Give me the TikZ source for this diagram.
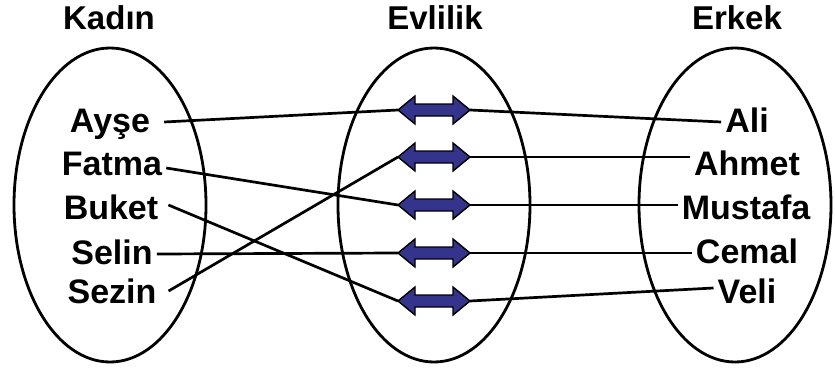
\documentclass[tikz,border=0pt]{standalone}
\usepackage{fontspec}
\setmainfont{Liberation Sans}
\usetikzlibrary{shapes.geometric}
\definecolor{arrowblue}{RGB}{52,52,140}
\begin{document}
\begin{tikzpicture}[x=1pt,y=-1pt,
  oval/.style={draw, ellipse, line width=2.8pt, inner sep=0pt, minimum width=192pt, minimum height=314pt},
  head/.style={font=\fontsize{33}{33}\selectfont\bfseries, inner sep=0pt},
  lname/.style={font=\fontsize{34}{34}\selectfont\bfseries, text height=24pt, text depth=0pt, inner ysep=0pt, inner xsep=4pt},
  abox/.style={rectangle, inner sep=0pt, outer sep=0pt, minimum width=72pt, minimum height=28pt},
  arrowshape/.style={draw=black, line width=1.4pt, fill=arrowblue, line join=miter},
  link/.style={line width=2.7pt}]
\useasboundingbox (0,0) rectangle (835,369);
\fill[white] (0,0) rectangle (835,369);
% ellipses
\node[oval] (ek) at (110,205) {};
\node[oval] (ee) at (434,205) {};
\node[oval] (er) at (735,205) {};
% headers
\node[head] (hk) at (109,18) {Kadın};
\node[head] (he) at (435,18) {Evlilik};
\node[head] (hr) at (737,18) {Erkek};
% women
\node[lname] (ayse) at (110,120) {Ayşe};
\node[lname] (fatma) at (112,163) {Fatma};
\node[lname] (buket) at (111,207) {Buket};
\node[lname] (selin) at (112,252) {Selin};
\node[lname] (sezin) at (112,291) {Sezin};
% men
\node[lname] (ali) at (747,120) {Ali};
\node[lname] (ahmet) at (747,163) {Ahmet};
\node[lname] (mustafa) at (746,207) {Mustafa};
\node[lname] (cemal) at (747,251) {Cemal};
\node[lname] (veli) at (747,291) {Veli};
% arrows
\node[abox] (a1) at (434,110) {};
\node[abox] (a2) at (434,157) {};
\node[abox] (a3) at (434,205) {};
\node[abox] (a4) at (434,253) {};
\node[abox] (a5) at (434,301) {};
\foreach \n in {a1,a2,a3,a4,a5}
  \draw[arrowshape] (\n.west) -- ++(17,-14) -- ++(0,8) -- ++(38,0) -- ++(0,-8) -- ++(17,14)
    -- ++(-17,14) -- ++(0,-8) -- ++(-38,0) -- ++(0,8) -- cycle;
% links
\draw[link] ([xshift=10pt,yshift=-2pt]ayse.east) -- (a1.west);
\draw[link] ([yshift=-5pt]fatma.east) -- (a3.west);
\draw[link] ([xshift=6pt,yshift=2pt]buket.east) -- (a5.west);
\draw[link] ([yshift=-2pt]selin.east) -- (a4.west);
\draw[link] ([xshift=8pt]sezin.east) -- (a2.west);
\draw[link] (a1.east) -- ([yshift=-2pt]ali.west);
\draw[link] (a2.east) -- ([yshift=6pt]ahmet.west);
\draw[link] (a3.east) -- ([yshift=2pt]mustafa.west);
\draw[link] (a4.east) -- ([yshift=-2pt]cemal.west);
\draw[link] (a5.east) -- ([yshift=3pt]veli.west);
\end{tikzpicture}
\end{document}
